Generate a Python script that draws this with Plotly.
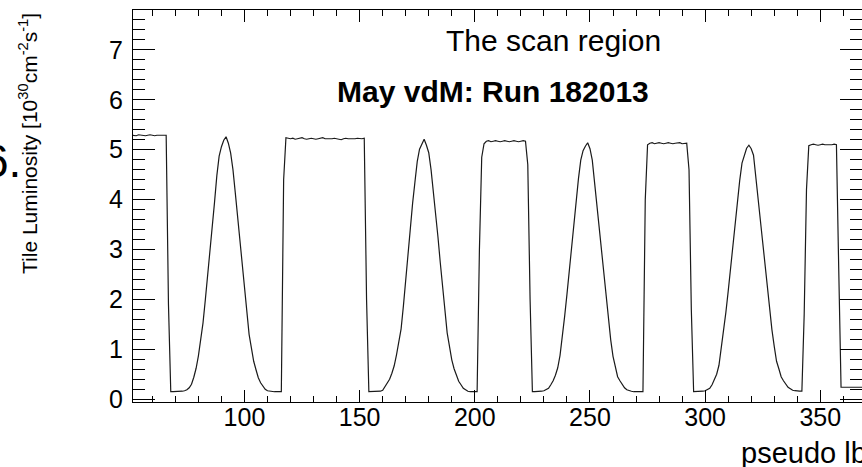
import plotly.graph_objects as go

# Tile luminosity per pseudo lumi-block, May vdM scan, run 182013.
# Each segment lists consecutive pseudo-lb values starting at first_lb.
first_lb = 51

plateau_1 = [5.29, 5.29, 5.28, 5.30, 5.29, 5.29, 5.28, 5.29, 5.30, 5.29,
             5.28, 5.29, 5.29, 5.30, 5.29, 5.29]

scan_1 = [1.90, 0.15, 0.15, 0.15, 0.16, 0.16, 0.16, 0.17, 0.19, 0.23,
          0.30, 0.44, 0.62, 0.87, 1.17, 1.53, 1.99, 2.45, 2.91, 3.38,
          3.95, 4.48, 4.87, 5.06, 5.19, 5.26, 5.13, 4.93, 4.60, 4.14,
          3.67, 3.16, 2.62, 2.16, 1.70, 1.30, 1.03, 0.76, 0.59, 0.43,
          0.33, 0.25, 0.20, 0.17, 0.16, 0.15, 0.15, 0.15, 0.15, 0.15,
          4.40]

plateau_2 = [5.24, 5.23, 5.22, 5.23, 5.21, 5.22, 5.23, 5.24, 5.22, 5.21,
             5.22, 5.23, 5.22, 5.21, 5.22, 5.23, 5.24, 5.22, 5.22, 5.21,
             5.22, 5.23, 5.22, 5.21, 5.20, 5.22, 5.23, 5.22, 5.22, 5.21,
             5.22, 5.23, 5.22, 5.22, 5.23]

scan_2 = [2.00, 0.15, 0.15, 0.15, 0.15, 0.16, 0.16, 0.18, 0.25, 0.32,
          0.40, 0.52, 0.67, 0.89, 1.14, 1.41, 1.87, 2.40, 2.95, 3.46,
          3.93, 4.35, 4.76, 5.01, 5.11, 5.21, 5.09, 4.94, 4.60, 4.18,
          3.73, 3.25, 2.74, 2.23, 1.75, 1.33, 1.06, 0.79, 0.61, 0.47,
          0.36, 0.29, 0.22, 0.19, 0.16, 0.15, 0.15, 0.15, 0.15, 3.00,
          4.85]

plateau_3 = [5.12, 5.17, 5.18, 5.16, 5.17, 5.18, 5.17, 5.16, 5.17, 5.18,
             5.17, 5.16, 5.17, 5.18, 5.17, 5.16, 5.17, 5.18, 5.17]

scan_3 = [4.70, 2.00, 0.15, 0.15, 0.15, 0.16, 0.16, 0.17, 0.19, 0.22,
          0.29, 0.37, 0.48, 0.63, 0.88, 1.24, 1.66, 2.10, 2.58, 3.03,
          3.49, 3.97, 4.42, 4.79, 4.98, 5.07, 5.14, 5.02, 4.79, 4.34,
          3.88, 3.43, 2.93, 2.47, 2.06, 1.58, 1.19, 0.86, 0.64, 0.45,
          0.37, 0.29, 0.23, 0.19, 0.17, 0.16, 0.15, 0.15, 0.15, 0.15,
          0.15, 4.00]

plateau_4 = [5.10, 5.13, 5.14, 5.12, 5.13, 5.14, 5.13, 5.12, 5.13, 5.14,
             5.13, 5.12, 5.13, 5.13, 5.14, 5.12, 5.13, 5.13]

scan_4 = [4.60, 1.80, 0.15, 0.15, 0.15, 0.16, 0.16, 0.17, 0.19, 0.22,
          0.29, 0.38, 0.50, 0.68, 1.00, 1.35, 1.74, 2.16, 2.63, 3.08,
          3.53, 4.01, 4.38, 4.73, 4.91, 5.03, 5.09, 5.02, 4.89, 4.44,
          3.97, 3.52, 3.14, 2.68, 2.27, 1.84, 1.39, 1.06, 0.76, 0.61,
          0.45, 0.37, 0.30, 0.24, 0.21, 0.18, 0.17, 0.16, 0.16, 0.16,
          1.70, 4.20]

plateau_5 = [5.08, 5.10, 5.11, 5.10, 5.09, 5.10, 5.11, 5.10, 5.10, 5.09,
             5.10, 5.11, 5.10]

tail = [2.60, 0.24, 0.24, 0.24, 0.24, 0.24, 0.24, 0.24, 0.24, 0.24,
        0.24, 0.24, 0.24]

segments = [plateau_1, scan_1, plateau_2, scan_2, plateau_3, scan_3,
            plateau_4, scan_4, plateau_5, tail]
lumi = [v for seg in segments for v in seg]
pseudo_lb = list(range(first_lb, first_lb + len(lumi)))

FONT = "Liberation Sans, Arial, Helvetica, sans-serif"
W, H = 862, 467
ML, MR, MT, MB = 133, 0, 10, 65


def px_to_paper(x_px, y_px):
    pw = W - ML - MR
    ph = H - MT - MB
    return (x_px - ML) / pw, (H - MB - y_px) / ph


fig = go.Figure()
fig.add_trace(go.Scatter(
    x=pseudo_lb, y=lumi, mode="lines",
    line=dict(color="#1a1a1a", width=1.2),
    showlegend=False, hoverinfo="skip",
))

axis_common = dict(
    showgrid=False, zeroline=False, showline=True, linecolor="black",
    linewidth=1, mirror="ticks", ticks="inside", tickcolor="black",
    tickwidth=1, tickfont=dict(family=FONT, size=25, color="black"),
)

fig.update_xaxes(
    range=[51.6, 368.1], tickmode="linear", tick0=0, dtick=50, ticklen=12,
    ticklabelstandoff=-7,
    minor=dict(tick0=0, dtick=10, ticks="inside", ticklen=6,
               tickcolor="black", tickwidth=1),
    **axis_common,
)
fig.update_yaxes(
    range=[-0.056, 7.80], tickmode="linear", tick0=0, dtick=1, ticklen=22,
    ticklabelstandoff=4,
    minor=dict(tick0=0, dtick=0.2, ticks="inside", ticklen=12,
               tickcolor="black", tickwidth=1),
    **axis_common,
)

annotations = []

# Rotated y-axis title, aligned towards the top of the axis
x, y = px_to_paper(28, 143)
annotations.append(dict(
    text="Tile Luminosity [10<sup>30</sup>cm<sup>-2</sup>s<sup>-1</sup>]",
    x=x, y=y, xref="paper", yref="paper", xanchor="center", yanchor="middle",
    textangle=-90, showarrow=False,
    font=dict(family=FONT, size=21, color="black"),
))

# x-axis title, right-aligned at the end of the axis (runs past the border)
x, y = px_to_paper(739, 453)
annotations.append(dict(
    text="pseudo lb", x=x, y=y, xref="paper", yref="paper",
    xanchor="left", yanchor="middle", showarrow=False,
    font=dict(family=FONT, size=29, color="black"),
))

x, y = px_to_paper(553, 40)
annotations.append(dict(
    text="The scan region", x=x, y=y, xref="paper", yref="paper",
    xanchor="center", yanchor="middle", showarrow=False,
    font=dict(family=FONT, size=30, color="black"),
))

x, y = px_to_paper(493, 92)
annotations.append(dict(
    text="<b>May vdM: Run 182013</b>", x=x, y=y, xref="paper", yref="paper",
    xanchor="center", yanchor="middle", showarrow=False,
    font=dict(family=FONT, size=30, color="black"),
))

# Fragment of the neighbouring page text at the left border
x, y = px_to_paper(23, 161)
annotations.append(dict(
    text="6.", x=x, y=y, xref="paper", yref="paper",
    xanchor="right", yanchor="middle", showarrow=False,
    font=dict(family=FONT, size=46, color="black"),
))

fig.update_layout(
    width=W, height=H,
    margin=dict(l=ML, r=MR, t=MT, b=MB, pad=0),
    paper_bgcolor="white", plot_bgcolor="white",
    annotations=annotations,
    font=dict(family=FONT, color="black"),
)

fig.write_html("out.html")
